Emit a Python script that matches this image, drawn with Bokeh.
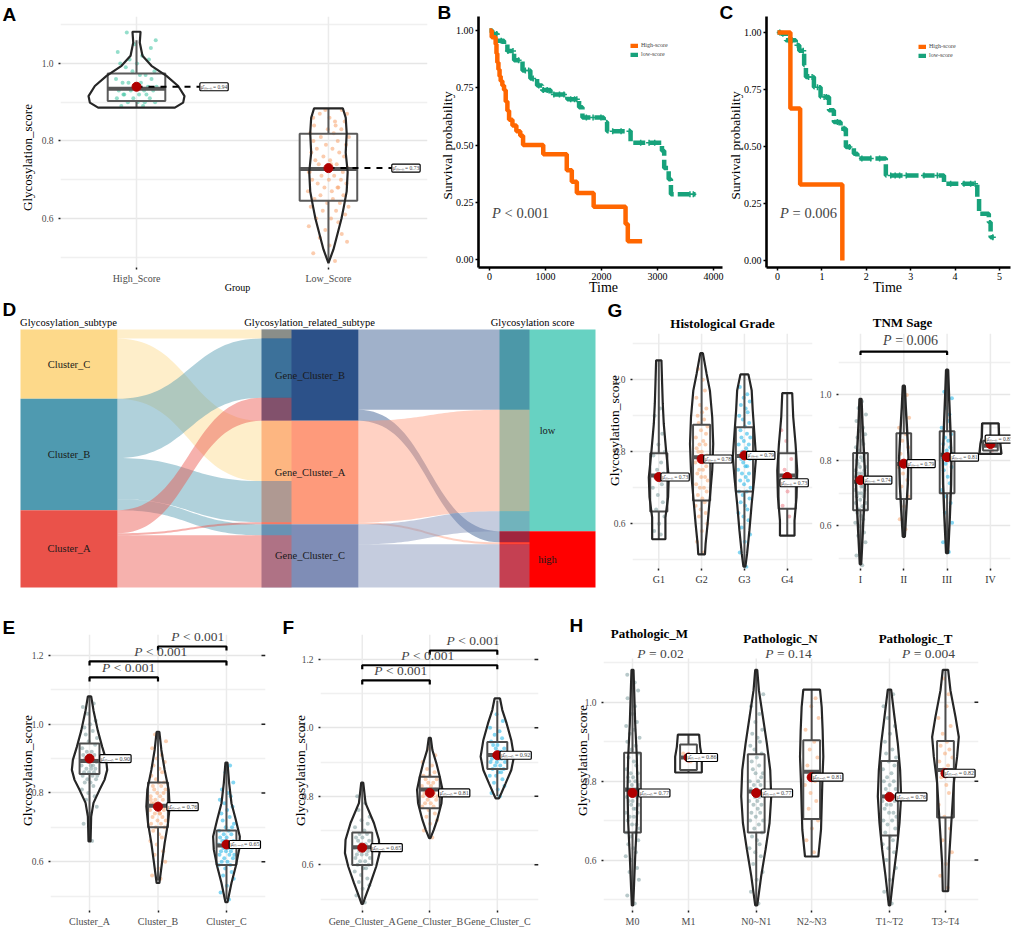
import numpy as np
from bokeh.plotting import figure
from bokeh.models import (Range1d, Label, FixedTicker, PrintfTickFormatter, Legend, LegendItem,
                          Spacer, GridBox)
from bokeh.layouts import row, column
from bokeh.embed import file_html
from bokeh.resources import INLINE

SERIF = "Liberation Serif"
SANS = "Liberation Sans"

# ======================= DATA =======================
# ---- Panel A ----
A_GROUPS = ["High_Score", "Low_Score"]
A_MEAN = [0.94, 0.73]
A_BOX = [[0.886, 0.903, 0.935, 0.974, 1.06], [0.49, 0.646, 0.728, 0.819, 0.884]]  # lo, q1, med, q3, hi
A_VY = [[1.082, 1.054, 1.020, 0.994, 0.968, 0.942, 0.916, 0.899, 0.886],
        [0.884, 0.86, 0.82, 0.77, 0.72, 0.67, 0.63, 0.60, 0.56, 0.52, 0.485]]
A_VW = [[0.021, 0.017, 0.031, 0.078, 0.156, 0.217, 0.25, 0.243, 0.2],
        [0.075, 0.09, 0.095, 0.09, 0.1, 0.095, 0.08, 0.068, 0.047, 0.026, 0.0]]
A_PTS = [[89, 89, 90, 90, 90, 91, 91, 91, 92, 92, 92, 93, 93, 93, 93, 94, 94, 94, 95, 95, 95, 96, 96, 97, 97,
          98, 98, 99, 100, 100, 101, 101, 102, 103, 104, 105, 106, 108, 90, 92],
         [49, 51, 53, 54, 55, 56, 57, 58, 59, 60, 60, 61, 62, 62, 63, 63, 64, 64, 65, 65, 66, 66, 67, 67, 68, 68,
          69, 69, 70, 70, 70, 71, 71, 72, 72, 73, 73, 74, 74, 75, 75, 76, 76, 77, 77, 78, 78, 79, 79, 80, 80, 81,
          81, 82, 82, 83, 83, 84, 84, 85, 85, 86, 86, 87, 87, 88, 88, 72, 68, 74]]

# ---- Panel B (Kaplan-Meier, days) ----
B_HIGH_T = [0, 40, 110, 125, 140, 160, 180, 200, 230, 260, 290, 320, 350, 410, 480, 550, 600, 960, 1380, 1470,
            1560, 1860, 2430, 2470, 2726]
B_HIGH_S = [1.00, 0.97, 0.94, 0.90, 0.86, 0.83, 0.80, 0.78, 0.76, 0.74, 0.69, 0.65, 0.61, 0.585, 0.56, 0.54,
            0.50, 0.46, 0.39, 0.34, 0.29, 0.23, 0.155, 0.08, 0.08]
B_LOW_T = [0, 50, 140, 260, 320, 440, 590, 730, 850, 940, 1090, 1390, 1600, 1660, 2040, 2100, 2520, 3080, 3120,
           3200, 3240, 3680]
B_LOW_S = [1.00, 0.985, 0.955, 0.94, 0.91, 0.87, 0.825, 0.79, 0.76, 0.74, 0.72, 0.70, 0.665, 0.62, 0.60, 0.56,
           0.51, 0.475, 0.40, 0.35, 0.285, 0.285]
B_CENSOR = [70, 130, 210, 330, 420, 520, 640, 700, 780, 880, 960, 1030, 1150, 1250, 1330, 1450, 1520, 1560,
            1730, 1850, 1990, 2200, 2350, 2500, 2700, 2850, 2950, 3580, 3640]
B_P_TEXT = "< 0.001"

# ---- Panel C (Kaplan-Meier, years) ----
C_HIGH_T = [0, 0.29, 0.51, 1.46]
C_HIGH_S = [1.0, 0.667, 0.333, 0.0]
C_LOW_T = [0, 0.08, 0.19, 0.41, 0.49, 0.60, 0.64, 0.82, 0.97, 1.16, 1.27, 1.42, 1.54, 1.72, 1.80, 2.44, 3.75,
           4.50, 4.54, 4.76, 4.80, 4.87]
C_LOW_S = [1.0, 0.995, 0.966, 0.944, 0.92, 0.856, 0.805, 0.76, 0.717, 0.659, 0.607, 0.578, 0.498, 0.468, 0.447,
           0.373, 0.337, 0.278, 0.205, 0.168, 0.102, 0.102]
C_CENSOR = [0.05, 0.12, 0.25, 0.33, 0.45, 0.58, 0.7, 0.78, 0.9, 1.05, 1.1, 1.35, 1.5, 1.62, 1.9, 2.1, 2.3, 2.55,
            2.65, 2.75, 2.9, 3.3, 3.6, 3.9, 4.2, 4.35, 4.45, 4.85]
C_P_TEXT = "= 0.006"

# ---- Panel D (Sankey) ----
D_LEFT = ["Cluster_C", "Cluster_B", "Cluster_A"]
D_MID = ["Gene_Cluster_B", "Gene_Cluster_A", "Gene_Cluster_C"]
D_RIGHT = ["low", "high"]
D_TITLES = ["Glycosylation_subtype", "Glycosylation_related_subtype", "Glycosylation score"]
F1_SRC = ["Cluster_C", "Cluster_C", "Cluster_B", "Cluster_B", "Cluster_B", "Cluster_A", "Cluster_A", "Cluster_A"]
F1_DST = ["Gene_Cluster_B", "Gene_Cluster_A", "Gene_Cluster_B", "Gene_Cluster_A", "Gene_Cluster_C",
          "Gene_Cluster_B", "Gene_Cluster_A", "Gene_Cluster_C"]
F1_N = [9, 60, 59, 41, 11, 23, 2, 52]
F2_SRC = ["Gene_Cluster_B", "Gene_Cluster_B", "Gene_Cluster_A", "Gene_Cluster_A", "Gene_Cluster_C", "Gene_Cluster_C"]
F2_DST = ["low", "high", "low", "high", "low", "high"]
F2_N = [80, 11, 101, 2, 20, 43]

# ---- Panel E ----
E_GROUPS = ["Cluster_A", "Cluster_B", "Cluster_C"]
E_MEAN = [0.90, 0.76, 0.65]
E_BOX = [[0.66, 0.855, 0.893, 0.944, 1.08], [0.545, 0.70, 0.763, 0.83, 0.975], [0.49, 0.59, 0.647, 0.691, 0.888]]
E_VY = [[1.081, 1.04, 0.982, 0.934, 0.896, 0.867, 0.838, 0.809, 0.771, 0.731, 0.659],
        [0.978, 0.925, 0.867, 0.809, 0.76, 0.712, 0.654, 0.596, 0.538],
        [0.888, 0.828, 0.77, 0.722, 0.673, 0.635, 0.587, 0.538, 0.482]]
E_VW = [[0.024, 0.058, 0.12, 0.185, 0.243, 0.258, 0.219, 0.146, 0.058, 0.024, 0.015],
        [0.02, 0.049, 0.097, 0.156, 0.17, 0.146, 0.097, 0.058, 0.02],
        [0.015, 0.039, 0.073, 0.136, 0.195, 0.185, 0.136, 0.073, 0.015]]
E_PTS = [[66, 71, 74, 76, 78, 79, 80, 81, 82, 83, 83, 84, 84, 85, 85, 85, 86, 86, 86, 87, 87, 87, 88, 88, 88, 89,
          89, 90, 90, 91, 91, 92, 92, 93, 94, 95, 96, 97, 98, 99, 100, 101, 103, 105, 106],
         [55, 56, 58, 60, 62, 63, 65, 66, 67, 68, 69, 70, 70, 71, 71, 72, 72, 73, 73, 74, 74, 75, 75, 75, 76, 76,
          76, 77, 77, 77, 78, 78, 79, 79, 80, 80, 81, 81, 82, 82, 83, 83, 84, 85, 86, 87, 88, 89, 90, 91, 93, 95,
          97, 74, 78],
         [49, 51, 53, 55, 56, 57, 58, 59, 59, 60, 60, 61, 61, 62, 62, 62, 63, 63, 63, 64, 64, 64, 65, 65, 65, 66,
          66, 66, 67, 67, 68, 68, 69, 69, 70, 70, 71, 72, 73, 74, 75, 76, 77, 78, 79, 80, 81, 83, 86, 88]]
E_BRACKET_PAIRS = [(1, 2), (1, 3), (2, 3)]
E_BRACKET_Y = [1.136, 1.183, 1.226]
E_BRACKET_TEXT = ["< 0.001", "< 0.001", "< 0.001"]

# ---- Panel F ----
F_GROUPS = ["Gene_Cluster_A", "Gene_Cluster_B", "Gene_Cluster_C"]
F_MEAN = [0.65, 0.81, 0.92]
F_BOX = [[0.49, 0.599, 0.651, 0.694, 0.84], [0.68, 0.765, 0.82, 0.857, 0.97], [0.80, 0.88, 0.921, 0.959, 1.08]]
F_VY = [[0.84, 0.78, 0.722, 0.673, 0.634, 0.595, 0.547, 0.508, 0.486],
        [0.971, 0.935, 0.896, 0.857, 0.819, 0.78, 0.731, 0.702, 0.678],
        [1.086, 1.052, 1.013, 0.964, 0.916, 0.877, 0.838, 0.809, 0.794]]
F_VW = [[0.015, 0.049, 0.173, 0.247, 0.256, 0.207, 0.123, 0.049, 0.01],
        [0.015, 0.039, 0.099, 0.148, 0.188, 0.173, 0.109, 0.059, 0.01],
        [0.04, 0.074, 0.138, 0.207, 0.247, 0.207, 0.123, 0.059, 0.025]]
F_PTS = [[49, 51, 53, 54, 55, 56, 57, 58, 59, 59, 60, 60, 61, 61, 62, 62, 63, 63, 63, 64, 64, 64, 65, 65, 66, 66,
          67, 67, 68, 68, 69, 69, 70, 71, 72, 73, 74, 76, 78, 80, 82],
         [68, 70, 72, 73, 74, 75, 76, 77, 77, 78, 78, 79, 79, 80, 80, 80, 81, 81, 81, 82, 82, 82, 83, 83, 84, 84,
          85, 85, 86, 86, 87, 88, 89, 90, 92, 94],
         [80, 81, 82, 83, 84, 85, 86, 86, 87, 87, 88, 88, 89, 89, 90, 90, 90, 91, 91, 91, 92, 92, 92, 93, 93, 94,
          94, 95, 95, 96, 97, 98, 99, 100, 102, 104]]
F_BRACKET_PAIRS = [(1, 2), (1, 3), (2, 3)]
F_BRACKET_Y = [1.139, 1.183, 1.226]
F_BRACKET_TEXT = ["< 0.001", "< 0.001", "< 0.001"]

# ---- Panel G: Histological Grade ----
G_GROUPS = ["G1", "G2", "G3", "G4"]
G_MEAN = [0.73, 0.78, 0.79, 0.73]
G_BOX = [[0.557, 0.634, 0.734, 0.796, 1.054], [0.515, 0.665, 0.785, 0.875, 1.074],
         [0.481, 0.69, 0.788, 0.868, 1.015], [0.567, 0.642, 0.734, 0.796, 0.963]]
G_VY = [[1.054, 0.989, 0.933, 0.878, 0.804, 0.729, 0.674, 0.618, 0.557],
        [1.074, 1.017, 0.97, 0.896, 0.822, 0.748, 0.674, 0.60, 0.544, 0.515],
        [1.015, 0.97, 0.915, 0.85, 0.785, 0.729, 0.656, 0.581, 0.517, 0.481],
        [0.963, 0.896, 0.822, 0.748, 0.674, 0.609, 0.567]]
G_VW = [[0.062, 0.078, 0.093, 0.116, 0.17, 0.233, 0.217, 0.155, 0.155],
        [0.03, 0.116, 0.194, 0.248, 0.271, 0.248, 0.194, 0.14, 0.093, 0.078],
        [0.093, 0.17, 0.194, 0.233, 0.271, 0.233, 0.17, 0.116, 0.062, 0.023],
        [0.116, 0.14, 0.194, 0.233, 0.217, 0.17, 0.17]]
G_PTS = [[57, 58, 60, 62, 64, 66, 68, 70, 71, 72, 73, 74, 75, 77, 79, 80, 82, 85, 90, 92],
         [52, 55, 58, 60, 62, 63, 64, 65, 66, 67, 68, 69, 70, 70, 71, 72, 73, 73, 74, 75, 75, 76, 77, 77, 78, 78,
          79, 80, 80, 81, 82, 82, 83, 84, 85, 86, 87, 88, 89, 90, 91, 92, 93, 95, 97, 100, 103],
         [48, 52, 55, 57, 59, 61, 62, 63, 64, 65, 66, 67, 68, 69, 69, 70, 71, 72, 72, 73, 74, 74, 75, 76, 76, 77,
          78, 78, 79, 79, 80, 80, 81, 82, 82, 83, 84, 84, 85, 86, 87, 88, 89, 90, 91, 92, 93, 94, 95, 96, 98],
         [62, 65, 69, 72, 75, 78, 83, 86]]

# ---- Panel G: TNM Stage ----
T_GROUPS = ["I", "II", "III", "IV"]
T_MEAN = [0.74, 0.79, 0.81, 0.85]
T_BOX = [[0.483, 0.648, 0.735, 0.823, 0.988], [0.567, 0.682, 0.789, 0.883, 1.028],
         [0.517, 0.70, 0.817, 0.889, 1.077], [0.82, 0.83, 0.845, 0.86, 0.913]]
T_VY = [[0.988, 0.911, 0.83, 0.748, 0.687, 0.606, 0.524, 0.483],
        [1.028, 0.962, 0.891, 0.809, 0.728, 0.656, 0.567],
        [1.077, 0.993, 0.891, 0.809, 0.728, 0.626, 0.517],
        [0.913, 0.87, 0.85, 0.82]]
T_VW = [[0.023, 0.046, 0.077, 0.108, 0.092, 0.062, 0.031, 0.015],
        [0.023, 0.046, 0.077, 0.108, 0.092, 0.062, 0.023],
        [0.023, 0.046, 0.077, 0.1, 0.092, 0.062, 0.023],
        [0.19, 0.2, 0.23, 0.254]]
T_PTS = [[48, 51, 53, 55, 57, 58, 60, 61, 62, 63, 64, 65, 65, 66, 67, 67, 68, 69, 69, 70, 70, 71, 71, 72, 72, 73,
          73, 74, 74, 75, 75, 76, 76, 77, 77, 78, 78, 79, 80, 80, 81, 82, 83, 84, 85, 86, 87, 88, 89, 90, 92, 94,
          96, 98],
         [59, 62, 66, 69, 72, 74, 76, 78, 79, 80, 82, 84, 86, 88, 90, 93, 96, 100],
         [52, 55, 58, 61, 64, 67, 69, 71, 73, 75, 77, 78, 79, 80, 81, 82, 83, 84, 85, 86, 87, 88, 90, 92, 94, 96,
          99, 101],
         [83, 85, 86]]
T_BRACKET_Y = 1.132
T_P_TEXT = "= 0.006"

# ---- Panel H ----
H_GROUPS = ["M0", "M1", "N0~N1", "N2~N3", "T1~T2", "T3~T4"]
H_TITLES = ["Pathologic_M", "Pathologic_N", "Pathologic_T"]
H_P_TEXT = ["= 0.02", "= 0.14", "= 0.004"]
H_MEAN = [0.77, 0.86, 0.77, 0.81, 0.76, 0.82]
H_BOX = [[0.485, 0.67, 0.778, 0.872, 1.082], [0.822, 0.828, 0.86, 0.893, 0.918],
         [0.485, 0.67, 0.774, 0.868, 1.082], [0.609, 0.704, 0.824, 0.904, 1.032],
         [0.485, 0.662, 0.761, 0.851, 1.032], [0.521, 0.708, 0.828, 0.902, 1.082]]
H_VY = [[1.082, 1.03, 0.946, 0.862, 0.778, 0.694, 0.609, 0.525, 0.485],
        [0.918, 0.887, 0.862, 0.822],
        [1.082, 1.03, 0.963, 0.895, 0.828, 0.761, 0.694, 0.627, 0.56, 0.485],
        [1.032, 0.988, 0.929, 0.862, 0.795, 0.736, 0.677, 0.609],
        [1.032, 0.963, 0.895, 0.828, 0.761, 0.694, 0.627, 0.56, 0.485],
        [1.082, 1.03, 0.963, 0.912, 0.862, 0.795, 0.727, 0.66, 0.593, 0.521]]
H_VW = [[0.018, 0.03, 0.048, 0.077, 0.089, 0.077, 0.048, 0.024, 0.012],
        [0.19, 0.208, 0.238, 0.238],
        [0.018, 0.048, 0.119, 0.19, 0.25, 0.268, 0.238, 0.167, 0.089, 0.018],
        [0.149, 0.179, 0.196, 0.208, 0.19, 0.179, 0.167, 0.119],
        [0.03, 0.089, 0.149, 0.19, 0.208, 0.179, 0.131, 0.071, 0.012],
        [0.048, 0.089, 0.179, 0.238, 0.208, 0.149, 0.119, 0.089, 0.06, 0.048]]
H_PTS = [[49, 51, 53, 55, 57, 58, 60, 61, 62, 63, 64, 65, 66, 67, 67, 68, 69, 69, 70, 71, 71, 72, 72, 73, 73, 74,
          74, 75, 75, 76, 76, 77, 77, 78, 78, 79, 79, 80, 80, 81, 81, 82, 82, 83, 84, 85, 86, 87, 88, 89, 90, 91,
          92, 93, 94, 95, 97, 99, 101, 103, 105, 107],
         [85, 87],
         [49, 52, 55, 57, 59, 61, 62, 63, 64, 65, 66, 67, 68, 69, 70, 70, 71, 72, 72, 73, 74, 74, 75, 75, 76, 76,
          77, 77, 78, 78, 79, 79, 80, 80, 81, 82, 82, 83, 84, 85, 86, 87, 88, 89, 90, 91, 92, 93, 95, 97, 99, 102],
         [62, 65, 68, 70, 73, 75, 77, 79, 80, 82, 84, 86, 88, 90, 93, 96, 99, 101],
         [49, 52, 55, 58, 60, 62, 63, 64, 65, 66, 67, 68, 69, 70, 70, 71, 72, 72, 73, 74, 74, 75, 75, 76, 76, 77,
          78, 78, 79, 80, 80, 81, 82, 83, 84, 85, 86, 87, 88, 90, 92, 94, 96, 99, 102],
         [53, 56, 59, 62, 65, 68, 71, 74, 77, 79, 81, 82, 83, 84, 85, 86, 87, 88, 89, 90, 92, 94, 96, 99, 102, 106]]

# ======================= STYLE / LAYOUT =======================
# fixed jitter pattern (horizontal spread of the points, fraction of the jitter width)
JIT = [0.31, -0.72, 0.05, 0.88, -0.41, 0.63, -0.15, -0.93, 0.47, 0.12, -0.58, 0.79, -0.27, 0.36, -0.84, 0.95,
       -0.06, 0.54, -0.66, 0.21, -0.38, 0.71, -0.97, 0.16, 0.43, -0.19, 0.85, -0.51, 0.02, -0.77, 0.59, -0.33,
       0.27, -0.89, 0.68, -0.09, 0.91, -0.46, 0.39, -0.62, 0.08, 0.74, -0.24, -0.81, 0.51, 0.19, -0.55, 0.83,
       -0.12, 0.44, -0.71, 0.97, -0.36, 0.25, -0.87, 0.61, -0.03, 0.34, -0.68, 0.77]

ORANGE = "#FF6600"
GREEN = "#17A27B"
GRAYPT = "#7E9C9E"
ORPT = "#F7A975"
CYPT = "#1FB5E8"
PKPT = "#EE8088"
MEANRED = "#B00000"

PAGE_W, PAGE_H = 1015, 929

# ---------- overlay figure: whole page, data units = page pixels ----------
OV = figure(width=PAGE_W, height=PAGE_H, x_range=Range1d(0, PAGE_W), y_range=Range1d(PAGE_H, 0),
            output_backend="svg", toolbar_location=None, tools="", title=None,
            x_axis_location=None, y_axis_location=None, min_border=0)
OV.grid.visible = False
OV.outline_line_color = None
OV.background_fill_color = None
OV.border_fill_color = None


def otxt(X, Y, s, size, font=SERIF, style="normal", color="black", align="center", baseline="middle",
         angle=0.0):
    OV.add_layout(Label(x=X, y=Y, text=s, text_font=font, text_font_size="%spx" % size,
                        text_font_style=style, text_color=color, text_align=align,
                        text_baseline=baseline, angle=angle))


CW = {" ": 0.25, ".": 0.25, "<": 0.56, "=": 0.56}


def optxt(X, Y, rest, size):
    """'P' in italics followed by the rest, centred at page point (X, Y)."""
    wP = 0.62 * size
    gap = 0.25 * size
    total = wP + gap + sum(CW.get(c, 0.5) for c in rest) * size
    x0 = -total / 2.0
    OV.add_layout(Label(x=X, y=Y, text="P", text_font=SERIF, text_font_style="italic",
                        text_font_size="%spx" % size, text_align="left", text_baseline="middle", x_offset=x0))
    OV.add_layout(Label(x=X, y=Y, text=rest, text_font=SERIF, text_font_size="%spx" % size,
                        text_align="left", text_baseline="middle", x_offset=x0 + wP + gap))


def letter(X, Y, s):
    otxt(X, Y, s, 19, font=SANS, style="bold", align="left", baseline="top")


class Pan:
    """A figure placed at page box (x0,y0,x1,y1) with its frame at (fl,ft,fr,fb)."""
    def __init__(self, box, frame, xr, yr):
        x0, y0, x1, y1 = box
        fl, ft, fr, fb = frame
        self.frame = frame
        self.xr, self.yr = xr, yr
        p = figure(width=x1 - x0, height=y1 - y0, x_range=Range1d(*xr), y_range=Range1d(*yr),
                   output_backend="svg", toolbar_location=None, tools="", title=None,
                   min_border_left=fl - x0, min_border_right=x1 - fr,
                   min_border_top=ft - y0, min_border_bottom=y1 - fb)
        p.outline_line_color = None
        p.border_fill_color = "white"
        p.background_fill_color = "white"
        self.p = p

    def page(self, x, y):
        fl, ft, fr, fb = self.frame
        X = fl + (x - self.xr[0]) / (self.xr[1] - self.xr[0]) * (fr - fl)
        Y = ft + (self.yr[1] - y) / (self.yr[1] - self.yr[0]) * (fb - ft)
        return X, Y

    def xunits(self, px):
        fl, ft, fr, fb = self.frame
        return px * (self.xr[1] - self.xr[0]) / (fr - fl)


def style_cat_axes(pn, pos, names, majors, minors, right=False, xcolor="#4D4D4D", xsize=10, gtop=None):
    p = pn.p
    p.xaxis.ticker = FixedTicker(ticks=list(pos))
    p.xaxis.major_label_overrides = {x: n for x, n in zip(pos, names)}
    yt = FixedTicker(ticks=majors, minor_ticks=minors)
    p.yaxis.ticker = yt
    p.yaxis.formatter = PrintfTickFormatter(format="%.1f")
    for ax in (p.xaxis[0], p.yaxis[0]):
        ax.axis_line_color = None
        ax.major_tick_line_color = "#222222"
        ax.major_tick_line_width = 1.5
        ax.major_tick_out = 2
        ax.major_tick_in = 0
        ax.minor_tick_line_color = None
        ax.major_label_text_font = SERIF
        ax.major_label_standoff = 3
    p.xaxis.major_label_text_font_size = "%spx" % xsize
    p.xaxis.major_label_text_color = xcolor
    p.yaxis.major_label_text_font_size = "9.5px"
    p.yaxis.major_label_text_color = "#4D4D4D"
    p.xgrid.visible = False
    top = pn.yr[1] if gtop is None else gtop
    p.segment(x0=list(pos), y0=[pn.yr[0]] * len(pos), x1=list(pos), y1=[top] * len(pos),
              line_color="#EBEBEB", line_width=1.5)
    p.ygrid.ticker = yt
    p.ygrid.grid_line_color = "#E6E6E6"
    p.ygrid.grid_line_width = 1.5
    p.ygrid.minor_grid_line_color = "#F0F0F0"
    p.ygrid.minor_grid_line_width = 1.3
    if right:
        xe = pn.xr[1] - pn.xunits(2)
        p.scatter([xe] * len(majors), majors, marker="dash", size=4, line_width=1.5, color="#222222")


def violins(pn, pos, vy, vw, box, means, pts, colors, bw, jw, ldx, ldy, link=False, vlw=2.2,
            boxcol="#4D4D4D", lsize=6):
    p = pn.p
    for i, x in enumerate(pos):
        ys = np.array(pts[i], dtype=float) / 100.0
        xs = [x + JIT[k % len(JIT)] * jw for k in range(len(ys))]
        p.scatter(xs, ys, size=4, color=colors[i], alpha=0.55, line_color=None)
    for i, x in enumerate(pos):
        lo, q1, med, q3, hi = box[i]
        p.segment([x, x], [hi, lo], [x, x], [q3, q1], line_color=boxcol, line_width=2)
        p.quad(left=x - bw, right=x + bw, bottom=q1, top=q3, fill_color=None, line_color=boxcol, line_width=2)
        p.segment(x - bw, med, x + bw, med, line_color="#555555", line_width=4)
        yy = list(vy[i])
        ww = list(vw[i])
        px = [x + w for w in ww] + [x - w for w in ww[::-1]]
        py = yy + yy[::-1]
        p.patch(px, py, fill_alpha=0, line_color="#262626", line_width=vlw)
    for i, x in enumerate(pos):
        m = means[i]
        if link:
            p.segment(x, m, x + ldx[i], m, line_color="black", line_width=2, line_dash="6 6")
        p.scatter([x], [m], size=9, color=MEANRED, line_color=MEANRED)
        p.add_layout(Label(x=x + ldx[i], y=m + ldy[i], text="μ̂ₘₑₐₙ = %.2f" % m, text_font=SERIF,
                           text_font_size="%spx" % lsize, text_align="left", text_baseline="middle",
                           background_fill_color="white", border_line_color="black", border_line_width=1.2,
                           padding=1, border_radius=1))


def brackets(pn, pairs, ys, texts, lxs, size=13.5, tick=0.012):
    p = pn.p
    for (a, b), y, t, lx in zip(pairs, ys, texts, lxs):
        p.line([a, a, b, b], [y - tick, y, y, y - tick], line_color="black", line_width=2.2)
        X, Y = pn.page(lx, y)
        optxt(X, Y - 10, t, size)


def style_km(pn, xticks):
    p = pn.p
    p.xgrid.visible = False
    p.ygrid.visible = False
    p.xaxis.ticker = FixedTicker(ticks=xticks)
    p.yaxis.ticker = FixedTicker(ticks=[0, 0.25, 0.5, 0.75, 1.0])
    p.yaxis.formatter = PrintfTickFormatter(format="%.2f")
    for ax in (p.xaxis[0], p.yaxis[0]):
        ax.axis_line_color = "black"
        ax.axis_line_width = 2.6
        ax.major_tick_line_color = "black"
        ax.major_tick_line_width = 1.5
        ax.major_tick_out = 3
        ax.major_tick_in = 0
        ax.minor_tick_line_color = None
        ax.major_label_text_font = SERIF
        ax.major_label_text_font_size = "10px"
        ax.major_label_text_color = "black"
        ax.major_label_standoff = 2


def km(pn, HT, HS, LT, LS, CT, legend_loc):
    p = pn.p
    rl = p.step(LT, LS, mode="after", line_color=GREEN, line_width=4.5, line_dash="12 4")
    idx = np.searchsorted(np.array(LT), np.array(CT), side="right") - 1
    cs = [LS[i] for i in idx]
    p.scatter(CT, cs, marker="cross", size=6, line_width=1.5, color=GREEN)
    rh = p.step(HT, HS, mode="after", line_color=ORANGE, line_width=4.5)
    leg = Legend(items=[LegendItem(label="High-score", renderers=[rh]),
                        LegendItem(label="low-score", renderers=[rl])],
                 location=legend_loc, orientation="vertical", label_text_font=SERIF,
                 label_text_font_size="6px", glyph_width=8, glyph_height=5, label_height=5,
                 label_standoff=3, spacing=3, padding=0, margin=0, border_line_color=None,
                 background_fill_alpha=0)
    p.add_layout(leg)


MAJ3 = [0.6, 0.8, 1.0]
MAJ4 = [0.6, 0.8, 1.0, 1.2]
MIN4 = [0.5, 0.7, 0.9, 1.1]

# ======================= ROW 1 (y 0..290, frames 16..267) =======================
A = Pan((0, 0, 435, 290), (60, 16, 427, 267), (0.604, 2.516), (0.4735, 1.1213))
A_POS = [1, 2]
style_cat_axes(A, A_POS, A_GROUPS, MAJ3, MIN4)
violins(A, A_POS, A_VY, A_VW, A_BOX, A_MEAN, A_PTS, ["#3CC2A0", "#F7A26B"], 0.15, 0.11,
        [0.33, 0.33], [0, 0], link=True, boxcol="#5A5A5A", lsize=5.5)
letter(2, 3, "A")
otxt(27, 157, "Glycosylation_score", 13, angle=np.pi / 2)
otxt(237, 287, "Group", 10)

B = Pan((435, 0, 725, 290), (478, 16, 722, 267), (-196, 4161), (-0.0349, 1.0611))
style_km(B, [0, 1000, 2000, 3000, 4000])
km(B, B_HIGH_T, B_HIGH_S, B_LOW_T, B_LOW_S, B_CENSOR, (152, 210))
letter(437, 1, "B")
otxt(447, 145, "Survival probability", 13.5, angle=np.pi / 2)
otxt(603, 287, "Time", 14)
optxt(520, 212, B_P_TEXT, 14.5)

C = Pan((725, 0, 1015, 290), (766, 16, 1010, 267), (-0.248, 5.248), (-0.0307, 1.0702))
style_km(C, [0, 1, 2, 3, 4, 5])
km(C, C_HIGH_T, C_HIGH_S, C_LOW_T, C_LOW_S, C_CENSOR, (152, 209))
letter(719, 1, "C")
otxt(735, 145, "Survival probability", 13.5, angle=np.pi / 2)
otxt(887, 287, "Time", 14)
optxt(808, 212, C_P_TEXT, 14.5)

# ======================= ROW 2 (y 290..588) =======================
# Sankey (panel D) drawn on the overlay in page units
NODE_COL = {"Cluster_C": "#FDD98A", "Cluster_B": "#4F9AB0", "Cluster_A": "#EA524A",
            "Gene_Cluster_B": "#2C5189", "Gene_Cluster_A": "#FE9A7B", "Gene_Cluster_C": "#7F8DB6",
            "low": "#67D2C2", "high": "#FF0000"}
COLS = [(20, 117), (261, 358), (499, 595)]
OVER = 30
Y_TOP, Y_BOT = 329, 587
SC = (Y_BOT - Y_TOP) / float(sum(F1_N))


def node_pos(names, keys, counts):
    tot = {n: 0 for n in names}
    for k, v in zip(keys, counts):
        tot[k] += v
    y = Y_TOP
    pos = {}
    for n in names:
        pos[n] = (y, y + tot[n] * SC)
        y += tot[n] * SC
    return pos


LPOS = node_pos(D_LEFT, F1_SRC, F1_N)
MPOS = node_pos(D_MID, F1_DST, F1_N)
RPOS = node_pos(D_RIGHT, F2_DST, F2_N)
D_STAGES = ((D_LEFT, LPOS, COLS[0]), (D_MID, MPOS, COLS[1]), (D_RIGHT, RPOS, COLS[2]))

for names, pos, (cx0, cx1) in D_STAGES:
    OV.quad(left=[cx0] * len(names), right=[cx1] * len(names),
            top=[pos[n][0] for n in names], bottom=[pos[n][1] for n in names],
            fill_color=[NODE_COL[n] for n in names], line_color=None)


def bez(x0, y0, x1, y1, n=40):
    t = np.linspace(0, 1, n)
    cx = (x0 + x1) / 2.0
    bx = (1 - t) ** 3 * x0 + 3 * (1 - t) ** 2 * t * cx + 3 * (1 - t) * t ** 2 * cx + t ** 3 * x1
    by = (1 - t) ** 3 * y0 + 3 * (1 - t) ** 2 * t * y0 + 3 * (1 - t) * t ** 2 * y1 + t ** 3 * y1
    return bx, by


def flows(src, dst, cnt, spos, dpos, x0, x1):
    so = {k: v[0] for k, v in spos.items()}
    do = {k: v[0] for k, v in dpos.items()}
    xs, ys, cs = [], [], []
    x2 = x1 + OVER
    for s, d, v in zip(src, dst, cnt):
        h = v * SC
        st, sb = so[s], so[s] + h
        so[s] = sb
        dt, db = do[d], do[d] + h
        do[d] = db
        tx, ty = bez(x0, st, x1, dt)
        bx, by = bez(x0, sb, x1, db)
        xs.append(list(tx) + [x2, x2] + list(bx[::-1]))
        ys.append(list(ty) + [dt, db] + list(by[::-1]))
        cs.append(NODE_COL[s])
    OV.patches(xs, ys, fill_color=cs, fill_alpha=0.45, line_color=None)


flows(F1_SRC, F1_DST, F1_N, LPOS, MPOS, COLS[0][1], COLS[1][0])
flows(F2_SRC, F2_DST, F2_N, MPOS, RPOS, COLS[1][1], COLS[2][0])

for names, pos, (cx0, cx1) in D_STAGES:
    for n in names:
        otxt((cx0 + cx1) / 2.0, (pos[n][0] + pos[n][1]) / 2.0, n, 10.5, color="#1A1A1A")
for t, tx in zip(D_TITLES, [68, 309, 532]):
    otxt(tx, 322, t, 10.5)
letter(2, 298, "D")

G1 = Pan((600, 290, 815, 588), (632, 333, 812, 568), (0.386, 4.59), (0.4758, 1.1286))
G_POS = [1, 2, 3, 4]
style_cat_axes(G1, G_POS, G_GROUPS, MAJ3, MIN4, xcolor="#333333")
violins(G1, G_POS, G_VY, G_VW, G_BOX, G_MEAN, G_PTS, [GRAYPT, ORPT, CYPT, PKPT], 0.2, 0.15,
        [0.05, 0.05, 0.05, -0.17], [0, 0, 0, -0.016], lsize=5.5)
letter(607, 299, "G")
otxt(722, 323, "Histological Grade", 13, style="bold")
otxt(614, 430, "Glycosylation_score", 13.5, angle=np.pi / 2)

G2 = Pan((815, 290, 1015, 588), (838, 333, 1010, 568), (0.492, 4.464), (0.4700, 1.1875))
style_cat_axes(G2, G_POS, T_GROUPS, MAJ3, MIN4, xcolor="#333333")
violins(G2, G_POS, T_VY, T_VW, T_BOX, T_MEAN, T_PTS, [GRAYPT, ORPT, CYPT, PKPT], 0.17, 0.13,
        [0.07, 0.07, 0.07, -0.12], [0, 0, 0, 0.015], vlw=2.4, lsize=5.5)
G2.p.line([1, 1, 3, 3], [T_BRACKET_Y - 0.01, T_BRACKET_Y, T_BRACKET_Y, T_BRACKET_Y - 0.01],
          line_color="black", line_width=2.2)
otxt(902, 322, "TNM Sage", 13, style="bold")
optxt(910, 340, T_P_TEXT, 14)

# ======================= ROW 3 (y 588..929, frames 634..911) =======================
E = Pan((0, 588, 278, 929), (50, 634, 265, 911), (0.43, 3.57), (0.458, 1.2609))
E_POS = [1, 2, 3]
style_cat_axes(E, E_POS, E_GROUPS, MAJ4, MIN4, right=True)
violins(E, E_POS, E_VY, E_VW, E_BOX, E_MEAN, E_PTS, [GRAYPT, ORPT, CYPT], 0.145, 0.12,
        [0.15, 0.13, 0.04], [0, 0, 0])
brackets(E, E_BRACKET_PAIRS, E_BRACKET_Y, E_BRACKET_TEXT, [1.57, 2.04, 2.58])
letter(2, 616, "E")
otxt(27, 770, "Glycosylation_score", 13.5, angle=np.pi / 2)

F = Pan((278, 588, 550, 929), (320, 634, 538, 911), (0.382, 3.61), (0.4664, 1.2728))
style_cat_axes(F, E_POS, F_GROUPS, MAJ4, MIN4, right=True)
violins(F, E_POS, F_VY, F_VW, F_BOX, F_MEAN, F_PTS, [GRAYPT, ORPT, CYPT], 0.148, 0.12,
        [0.13, 0.13, 0.04], [0, 0, 0])
brackets(F, F_BRACKET_PAIRS, F_BRACKET_Y, F_BRACKET_TEXT, [1.57, 1.97, 2.64])
letter(282, 616, "F")
otxt(300, 770, "Glycosylation_score", 13.5, angle=np.pi / 2)

H = Pan((550, 588, 1015, 929), (603, 634, 978, 911), (0.482, 7.18), (0.4722, 1.1717))
H_POS = [1, 2, 3.21, 4.2, 5.59, 6.59]
style_cat_axes(H, H_POS, H_GROUPS, MAJ3, MIN4, right=True, gtop=1.111)
violins(H, H_POS, H_VY, H_VW, H_BOX, H_MEAN, H_PTS, [GRAYPT, ORPT, GRAYPT, ORPT, GRAYPT, ORPT], 0.15, 0.13,
        [0.11, -0.04, 0.09, 0.0, 0.11, -0.03], [0, 0, 0, 0, 0, 0])
letter(569, 614, "H")
otxt(582, 760, "Glycosylation_score", 13.5, angle=np.pi / 2)
for t, (tx, ty) in zip(H_TITLES, [(649, 633), (780, 638), (915, 638)]):
    otxt(tx, ty, t, 13, style="bold")
for t, tx in zip(H_P_TEXT, [660, 788, 928]):
    optxt(tx, 653, t, 13.5)

main = column(row(A.p, B.p, C.p, spacing=0),
              row(Spacer(width=600, height=298), G1.p, G2.p, spacing=0),
              row(E.p, F.p, H.p, spacing=0), spacing=0)

page = GridBox(children=[(main, 0, 0), (OV, 0, 0)])

open("out.html", "w").write(file_html(page, INLINE))
